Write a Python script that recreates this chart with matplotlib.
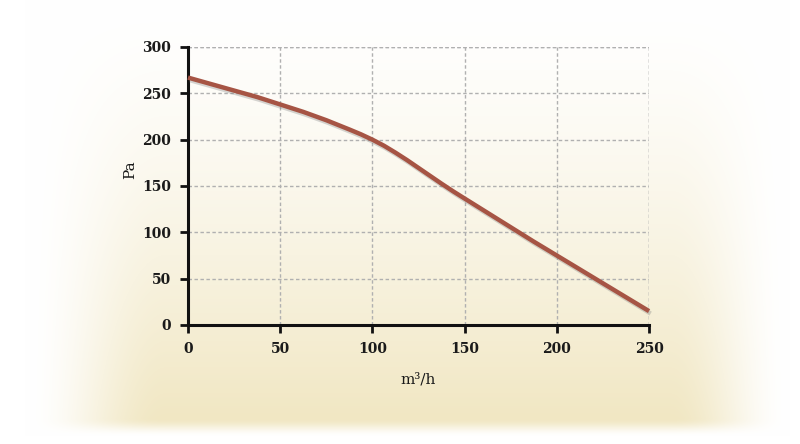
import numpy as np
import matplotlib
matplotlib.use("Agg")
import matplotlib.pyplot as plt
import matplotlib.patheffects as pe

# Data
flow = [0, 12.5, 25, 37.5, 50, 62.5, 75, 87.5, 93.75, 100, 106.25, 112.5,
        118.75, 125, 131.25, 137.5, 143.75, 150, 162.5, 175, 187.5, 200,
        212.5, 225, 237.5, 250]
pressure = [267, 260, 253, 246, 238, 230, 221, 211, 205.8, 200, 193.5, 186,
            178, 169.5, 161, 152.5, 144.3, 136.5, 121, 105.5, 90, 75,
            60, 45, 30, 15]
x_ticks = [0, 50, 100, 150, 200, 250]
y_ticks = [0, 50, 100, 150, 200, 250, 300]
x_label = "m³/h"
y_label = "Pa"

W, H = 800, 444
fig = plt.figure(figsize=(W / 100, H / 100), dpi=100)

# Background gradient (cream at bottom, fading to white at top and sides)
yy, xx = np.mgrid[0:H, 0:W].astype(float)
def smooth(t):
    t = np.clip(t, 0, 1)
    return t * t * (3 - 2 * t)
av = (np.clip(yy / 418.0, 0, 1) ** 1.4) * (1 - smooth((yy - 418) / 18.0))
ah = smooth((xx - 25) / 140.0) * smooth((790 - xx) / 120.0)
a = av * ah
cream = np.array([241, 231, 195]) / 255.0
img = np.ones((H, W, 3)) * (1 - a[..., None]) + cream[None, None, :] * a[..., None]
bg = fig.add_axes([0, 0, 1, 1])
bg.imshow(img, aspect="auto", extent=[0, W, H, 0])
bg.axis("off")

plt.rcParams["font.family"] = ["DejaVu Serif"]

left, right, top, bottom = 188, 649, 47, 325
ax = fig.add_axes([left / W, 1 - bottom / H, (right - left) / W, (bottom - top) / H])
ax.set_facecolor("none")
ax.set_xlim(0, 250)
ax.set_ylim(0, 300)
ax.set_xticks(x_ticks)
ax.set_yticks(y_ticks)

gcol = "#b0b0b0"
gls = (0, (2.5, 1.8))
ax.grid(True, color=gcol, linestyle=gls, linewidth=1.0)
ax.axvline(250, color=gcol, linestyle=gls, linewidth=1.0, zorder=0.5)
ax.axhline(300, color=gcol, linestyle=gls, linewidth=1.0, zorder=0.5)

for s in ["top", "right"]:
    ax.spines[s].set_visible(False)
for s in ["left", "bottom"]:
    ax.spines[s].set_linewidth(2.2)
    ax.spines[s].set_color("#111111")
ax.tick_params(axis="both", direction="out", length=6, width=2, color="#111111",
               labelsize=10, labelcolor="#1a1a1a", pad=6)
for lab in ax.get_xticklabels() + ax.get_yticklabels():
    lab.set_fontweight("bold")

ax.plot(flow, pressure, color="#a65444", linewidth=3.2, solid_capstyle="butt",
        solid_joinstyle="round", clip_on=False, zorder=3,
        path_effects=[pe.SimpleLineShadow(offset=(1.2, -1.8), shadow_color="#777777", alpha=0.3),
                      pe.Normal()])

ax.set_xlabel(x_label, fontsize=11, color="#1a1a1a", labelpad=12)
ax.set_ylabel(y_label, fontsize=11, color="#1a1a1a", labelpad=14)
ax.yaxis.set_label_coords(-0.11, 0.56)

fig.savefig("out.png", dpi=100)
